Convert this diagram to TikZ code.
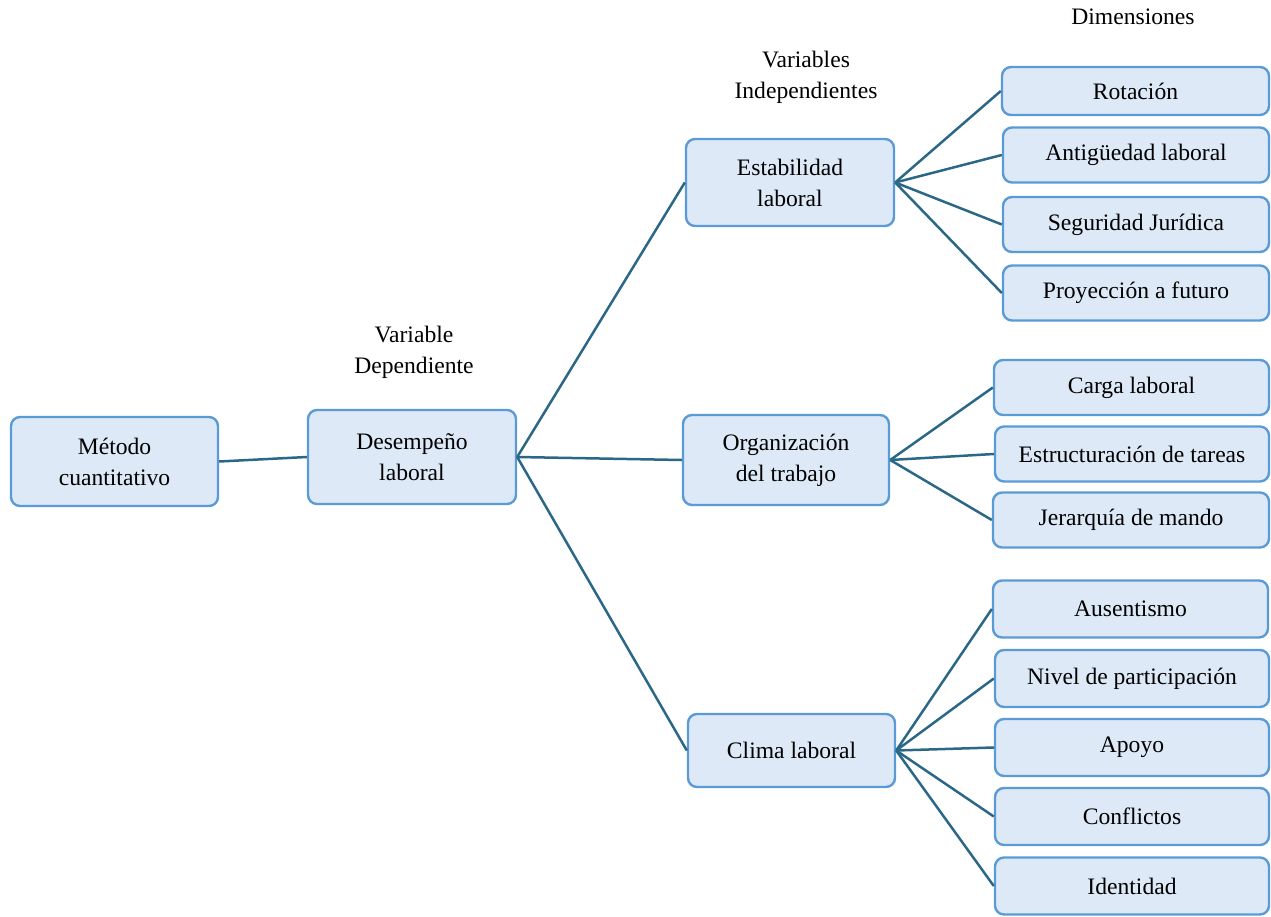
\documentclass[tikz,border=0pt]{standalone}
\usepackage{fontspec}
\setmainfont{Liberation Serif}
\definecolor{boxfill}{HTML}{DDE9F6}
\definecolor{boxline}{HTML}{5B9BD5}
\definecolor{link}{HTML}{2B6888}
\begin{document}
\begin{tikzpicture}[x=1pt,y=-1pt,
  box/.style={draw=boxline, fill=boxfill, line width=2.4pt, rounded corners=9pt,
    inner sep=0pt, align=center, font=\fontsize{23.6}{31}\selectfont},
  head/.style={align=center, font=\fontsize{23.6}{31}\selectfont},
  conn/.style={draw=link, line width=2.5pt}]
\useasboundingbox (0,0) rectangle (1271,917);

% column titles
\node[head] (tdim) at (1133,17) {Dimensiones};
\node[head] (tind) at (806,77) {Variables\\Independientes};
\node[head] (tdep) at (414,352) {Variable\\Dependiente};

% main chain
\node[box, minimum width=207pt, minimum height=89pt] (met) at (114.5,461.5) {Método\\cuantitativo};
\node[box, minimum width=208pt, minimum height=94pt] (des) at (412,457) {Desempeño\\laboral};

% independent variables
\node[box, minimum width=208pt, minimum height=87pt] (est) at (790,182.5) {Estabilidad\\laboral};
\node[box, minimum width=206pt, minimum height=90pt] (org) at (786,460) {Organización\\del trabajo};
\node[box, minimum width=207pt, minimum height=73pt] (cli) at (791.5,750.5) {Clima laboral};

% dimensions of Estabilidad laboral
\node[box, minimum width=267pt, minimum height=48pt] (rot) at (1135.5,91) {Rotación};
\node[box, minimum width=266pt, minimum height=55pt] (ant) at (1136,155) {Antigüedad laboral};
\node[box, minimum width=266pt, minimum height=55pt] (seg) at (1136,224.5) {Seguridad Jurídica};
\node[box, minimum width=266pt, minimum height=55pt] (pro) at (1136,293) {Proyección a futuro};

% dimensions of Organización del trabajo
\node[box, minimum width=275pt, minimum height=55pt] (car) at (1131.5,387.5) {Carga laboral};
\node[box, minimum width=274pt, minimum height=55pt] (estr) at (1132,454) {Estructuración de tareas};
\node[box, minimum width=276pt, minimum height=55pt] (jer) at (1131,520) {Jerarquía de mando};

% dimensions of Clima laboral
\node[box, minimum width=275pt, minimum height=57pt] (aus) at (1130.5,609) {Ausentismo};
\node[box, minimum width=274pt, minimum height=57pt] (niv) at (1132,678.5) {Nivel de participación};
\node[box, minimum width=274pt, minimum height=57pt] (apo) at (1132,747.5) {Apoyo};
\node[box, minimum width=274pt, minimum height=57pt] (con) at (1132,816.5) {Conflictos};
\node[box, minimum width=274pt, minimum height=57pt] (ide) at (1132,886) {Identidad};

% connectors
\draw[conn] (met.east) -- (des.west);
\draw[conn] (des.east) -- (est.west);
\draw[conn] (des.east) -- (org.west);
\draw[conn] (des.east) -- (cli.west);
\foreach \d in {rot,ant,seg,pro} \draw[conn] (est.east) -- (\d.west);
\foreach \d in {car,estr,jer} \draw[conn] (org.east) -- (\d.west);
\foreach \d in {aus,niv,apo,con,ide} \draw[conn] (cli.east) -- (\d.west);
\end{tikzpicture}
\end{document}
